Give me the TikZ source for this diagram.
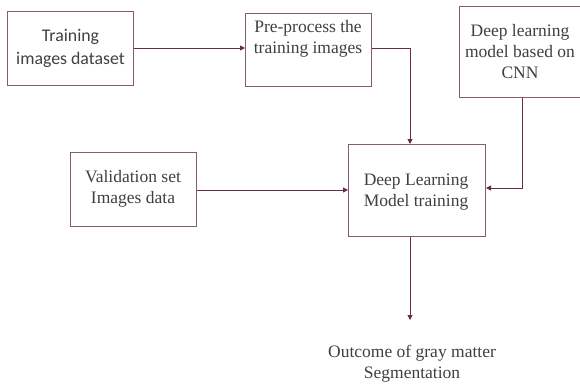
\documentclass[tikz,border=0pt]{standalone}
\usepackage{fontspec}
\setmainfont{Liberation Serif}
\newfontfamily\carl{Carlito}
\usetikzlibrary{arrows.meta}
\definecolor{boxc}{HTML}{8A5A74}
\definecolor{linec}{HTML}{6A2A4C}
\definecolor{txtc}{HTML}{404040}
\tikzset{
  box/.style={draw=boxc, line width=1pt, inner sep=0pt},
  lbl/.style={text=txtc, align=center, font=\fontsize{17.5}{21}\selectfont},
  conn/.style={draw=linec, line width=0.9pt, -{Triangle[length=5pt,width=5pt]}}
}
\begin{document}
\begin{tikzpicture}[x=1pt,y=-1pt]
\useasboundingbox[fill=white] (0,0) rectangle (580,385);
% boxes
\node[box, minimum width=126pt, minimum height=74pt, anchor=north west] (b1) at (7,11) {};
\node[lbl, font=\carl\fontsize{17.8}{23}\selectfont] at (70.5,48) {Training\\images dataset};
\node[box, minimum width=126pt, minimum height=73pt, anchor=north west] (b2) at (245,13) {};
\node[lbl] at (308,39) {Pre-process the\\training images};
\node[box, minimum width=121pt, minimum height=91pt, anchor=north west] (b3) at (459,6) {};
\node[lbl] at (520,52) {Deep learning\\model based on\\CNN};
\node[box, minimum width=126pt, minimum height=74pt, anchor=north west] (b4) at (70,152) {};
\node[lbl] at (133,189) {Validation set\\Images data};
\node[box, minimum width=137pt, minimum height=92pt, anchor=north west] (b5) at (348,144) {};
\node[lbl] at (416,192) {Deep Learning\\Model training};
\node[lbl] (out) at (412,364) {Outcome of gray matter\\Segmentation};
\coordinate (e1) at (410,320);
% connectors
\draw[conn] (b1.east |- 0,48) -- (b2.west |- 0,48);
\draw[conn] (b2.east |- 0,48) -| (b5.north -| 410,0);
\draw[conn] (b3.south -| 522,0) |- (b5.east |- 0,188);
\draw[conn] (b4.east |- 0,190) -- (b5.west |- 0,190);
\draw[conn] (b5.south -| 410,0) -- (e1);
\end{tikzpicture}
\end{document}
